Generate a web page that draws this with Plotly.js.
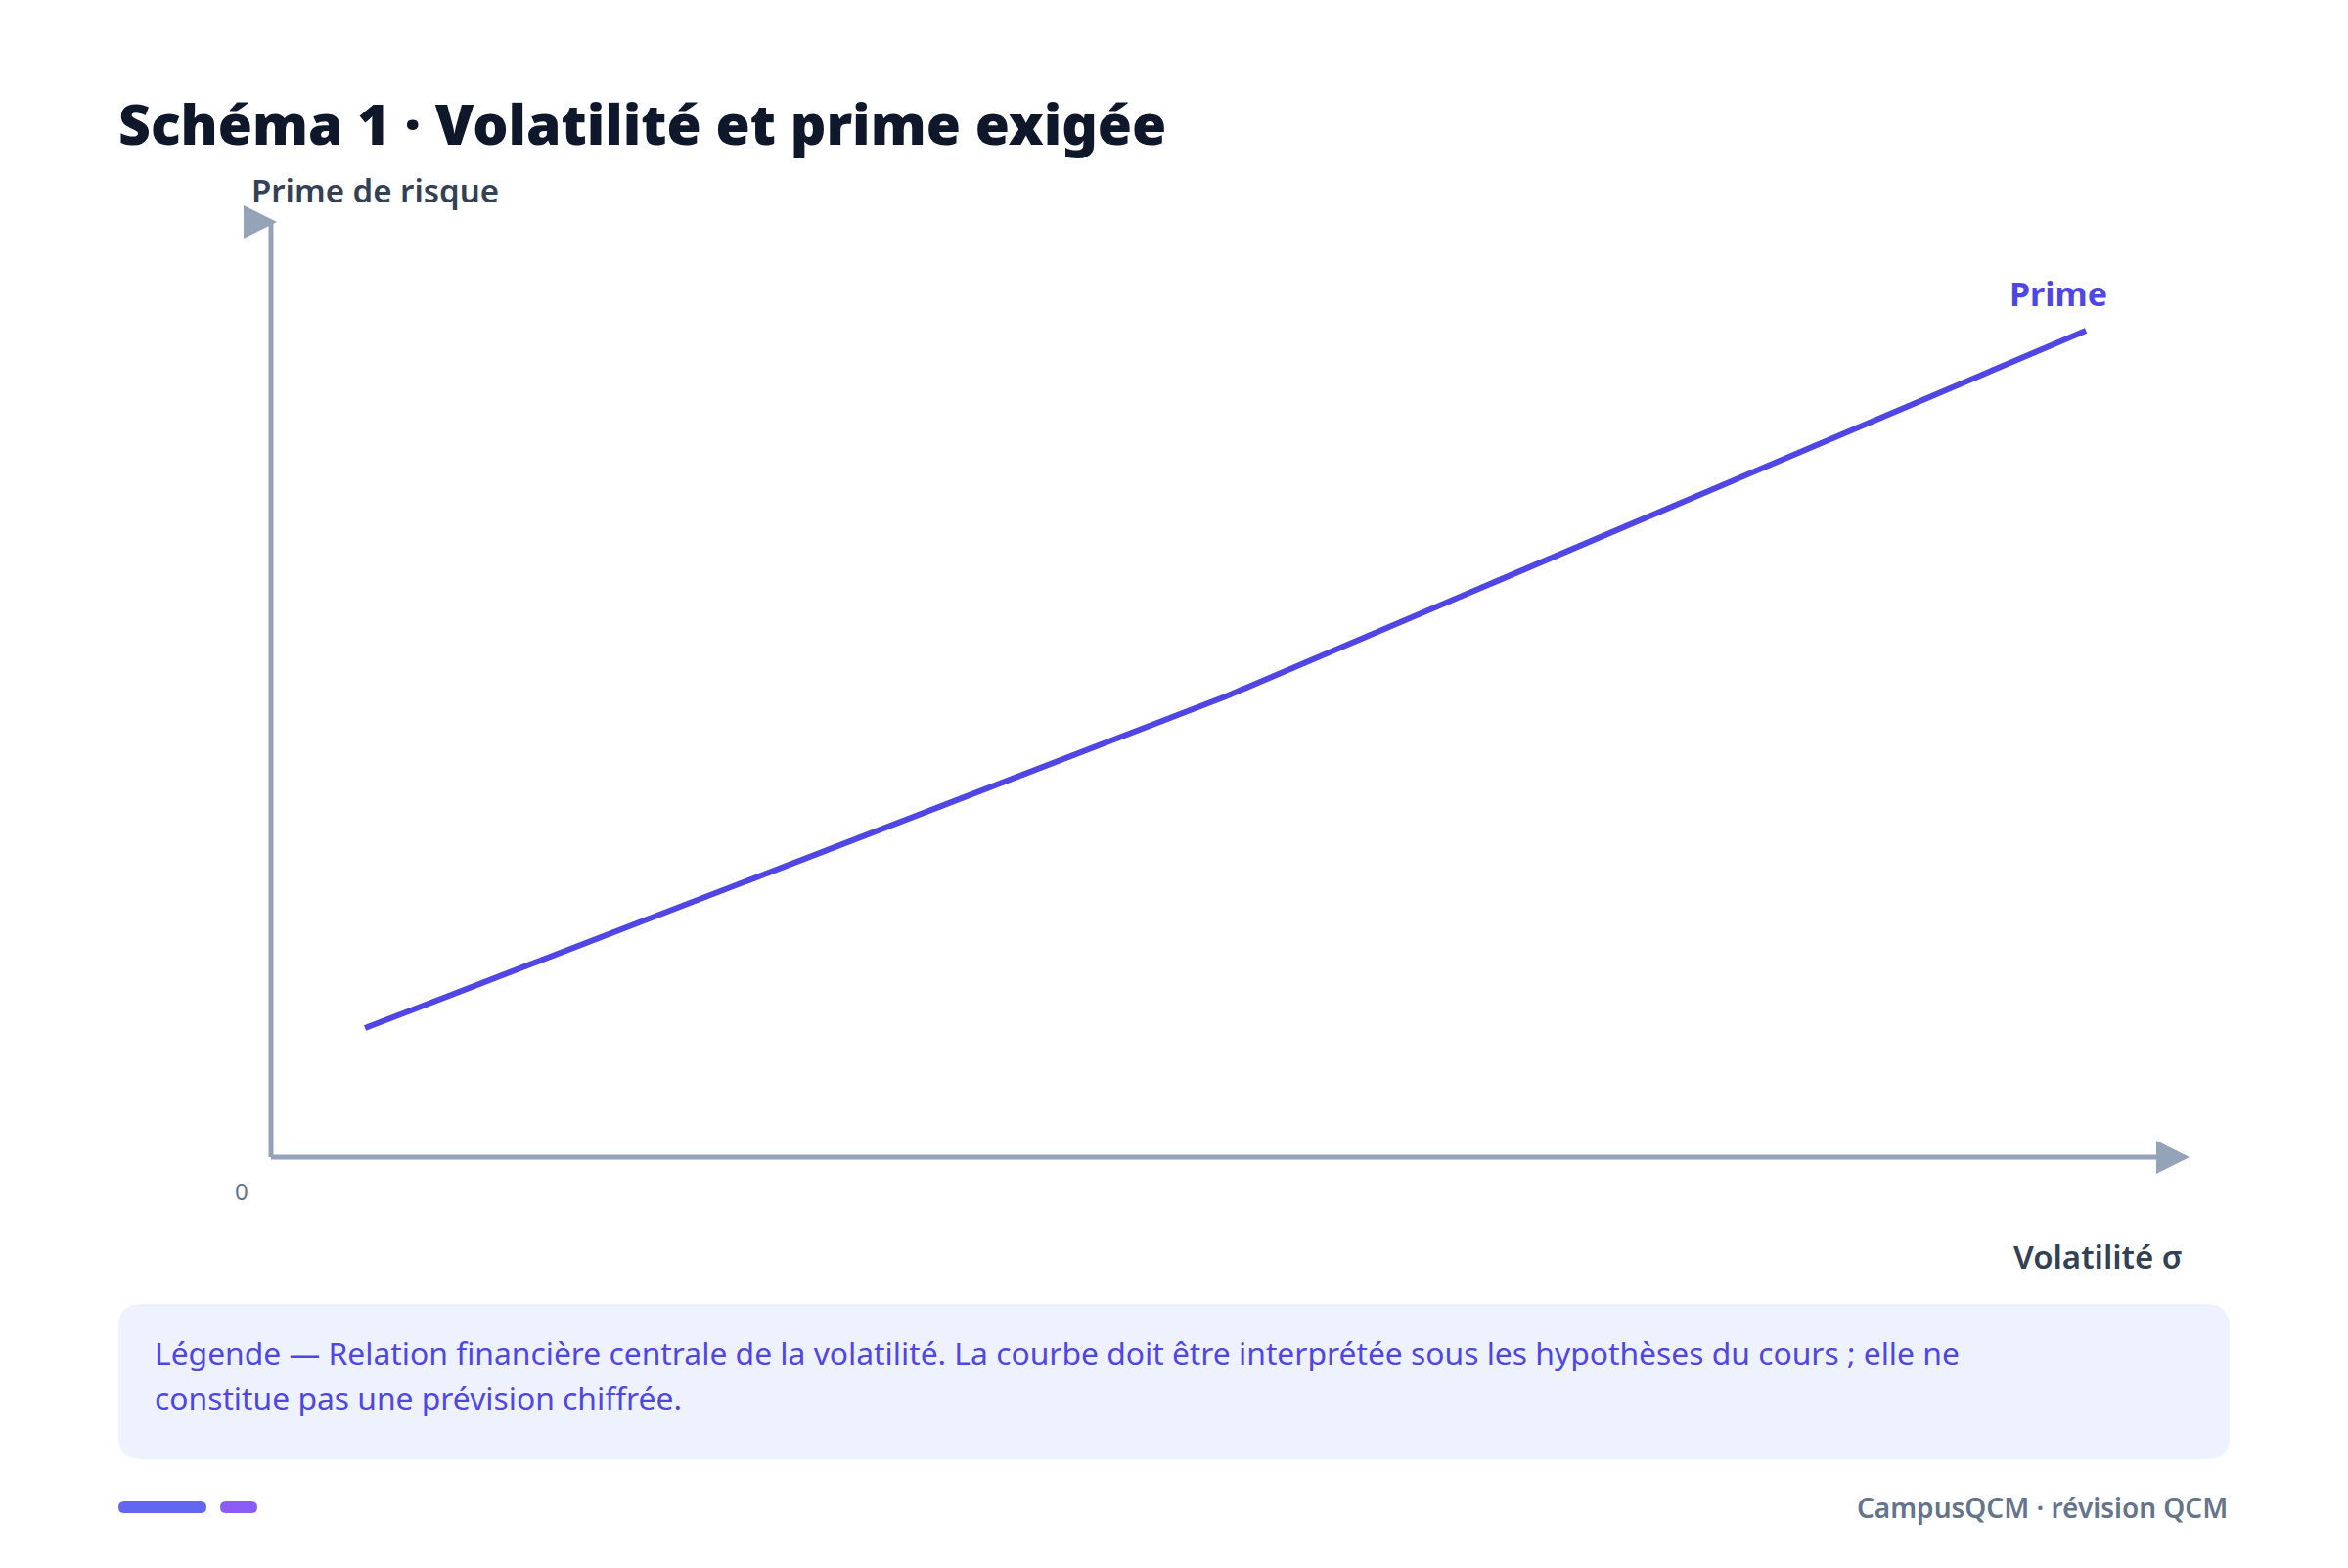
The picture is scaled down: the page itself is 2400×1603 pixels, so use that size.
<!DOCTYPE html>
<html>
<head>
<meta charset="utf-8">
<script src="https://cdn.plot.ly/plotly-3.0.1.min.js"></script>
<style>
  body { margin: 0; background: #ffffff; }
  #graph_area { width: 2400px; height: 1603px; }
</style>
</head>
<body>
<div id="graph_area"></div>
<script>
const volatilite = [0.49, 4.98, 9.46];
const prime = [1.38, 4.93, 8.84];

const titre = "Schéma 1 · Volatilité et prime exigée";
const labelY = "Prime de risque";
const labelX = "Volatilité σ";
const labelSerie = "Prime";
const origine = "0";
const legende1 = "Légende — Relation financière centrale de la volatilité. La courbe doit être interprétée sous les hypothèses du cours ; elle ne";
const legende2 = "constitue pas une prévision chiffrée.";
const pied = "CampusQCM · révision QCM";

const FONT = "'Noto Sans', 'Open Sans', sans-serif";

// zone de tracé en pixels
const L = 277, R = 2238, T = 227, B = 1183;
const W = R - L, H = B - T;
const X = (px) => (px - L) / W;
const Y = (py) => (B - py) / H;

// rectangle arrondi en coordonnées papier
function roundRect(x0, y0, x1, y1, r) {
    const p = (a, b) => X(a) + "," + Y(b);
    return "M" + p(x0 + r, y0) + " L" + p(x1 - r, y0) + " Q" + p(x1, y0) + " " + p(x1, y0 + r) +
        " L" + p(x1, y1 - r) + " Q" + p(x1, y1) + " " + p(x1 - r, y1) +
        " L" + p(x0 + r, y1) + " Q" + p(x0, y1) + " " + p(x0, y1 - r) +
        " L" + p(x0, y0 + r) + " Q" + p(x0, y0) + " " + p(x0 + r, y0) + " Z";
}
function tri(pts) {
    return "M" + pts.map(q => X(q[0]) + "," + Y(q[1])).join(" L") + " Z";
}

const axisColor = "#94a3b8";

const shapes = [
    // boîte de légende
    { type: "path", xref: "paper", yref: "paper", layer: "below",
      path: roundRect(121, 1333, 2279, 1492, 24), fillcolor: "#eef2ff", line: { width: 0 } },
    // axes
    { type: "line", xref: "paper", yref: "paper", x0: 0, x1: 0, y0: 0, y1: 1,
      line: { color: axisColor, width: 5 } },
    { type: "line", xref: "paper", yref: "paper", x0: 0, x1: X(2206), y0: 0, y1: 0,
      line: { color: axisColor, width: 5 } },
    { type: "path", xref: "paper", yref: "paper", path: tri([[249, 210], [283, 227], [249, 244]]),
      fillcolor: axisColor, line: { width: 0 } },
    { type: "path", xref: "paper", yref: "paper", path: tri([[2204, 1166], [2238, 1183], [2204, 1200]]),
      fillcolor: axisColor, line: { width: 0 } },
    // petites pastilles du pied
    { type: "path", xref: "paper", yref: "paper", path: roundRect(121, 1535, 211, 1547, 6),
      fillcolor: "#6366f1", line: { width: 0 } },
    { type: "path", xref: "paper", yref: "paper", path: roundRect(225, 1535, 263, 1547, 6),
      fillcolor: "#8b5cf6", line: { width: 0 } }
];

const n = volatilite.length - 1;
const annotations = [
    { xref: "paper", yref: "paper", x: X(255), y: Y(195), xanchor: "left", yanchor: "middle",
      text: labelY, showarrow: false, font: { family: FONT, size: 33, color: "#334155", weight: 600 } },
    { xref: "paper", yref: "paper", x: X(2233), y: Y(1284), xanchor: "right", yanchor: "middle",
      text: labelX, showarrow: false, font: { family: FONT, size: 33, color: "#334155", weight: 600 } },
    { xref: "paper", yref: "paper", x: X(256), y: Y(1217), xanchor: "right", yanchor: "middle",
      text: origine, showarrow: false, font: { family: FONT, size: 24, color: "#64748b" } },
    { x: volatilite[n], y: prime[n], xanchor: "right", yanchor: "bottom", xshift: 24, yshift: 13,
      text: labelSerie, showarrow: false, font: { family: FONT, size: 34, color: "#4f46e5", weight: 700 } },
    { xref: "paper", yref: "paper", x: X(156), y: Y(1382), xanchor: "left", yanchor: "middle",
      text: legende1, showarrow: false, font: { family: FONT, size: 31.8, color: "#4f46e5" } },
    { xref: "paper", yref: "paper", x: X(156), y: Y(1428), xanchor: "left", yanchor: "middle",
      text: legende2, showarrow: false, font: { family: FONT, size: 31.8, color: "#4f46e5" } },
    { xref: "paper", yref: "paper", x: X(2279), y: Y(1541), xanchor: "right", yanchor: "middle",
      text: pied, showarrow: false, font: { family: FONT, size: 28, color: "#64748b", weight: 600 } }
];

Plotly.newPlot("graph_area", [{
    x: volatilite,
    y: prime,
    mode: "lines",
    type: "scatter",
    line: { color: "#4f46e5", width: 6 },
    hoverinfo: "skip"
}], {
    width: 2400,
    height: 1603,
    margin: { l: L, r: 2400 - R, t: T, b: 1603 - B },
    paper_bgcolor: "#ffffff",
    plot_bgcolor: "#ffffff",
    showlegend: false,
    title: {
        text: titre,
        x: 121 / 2400, xanchor: "left", xref: "container",
        y: 1 - 128 / 1603, yanchor: "middle", yref: "container",
        font: { family: FONT, size: 57, color: "#0f172a", weight: 900 }
    },
    xaxis: { range: [0, 10], visible: false, fixedrange: true },
    yaxis: { range: [0, 10], visible: false, fixedrange: true },
    shapes: shapes,
    annotations: annotations
}, { displayModeBar: false, staticPlot: true });
</script>
</body>
</html>
